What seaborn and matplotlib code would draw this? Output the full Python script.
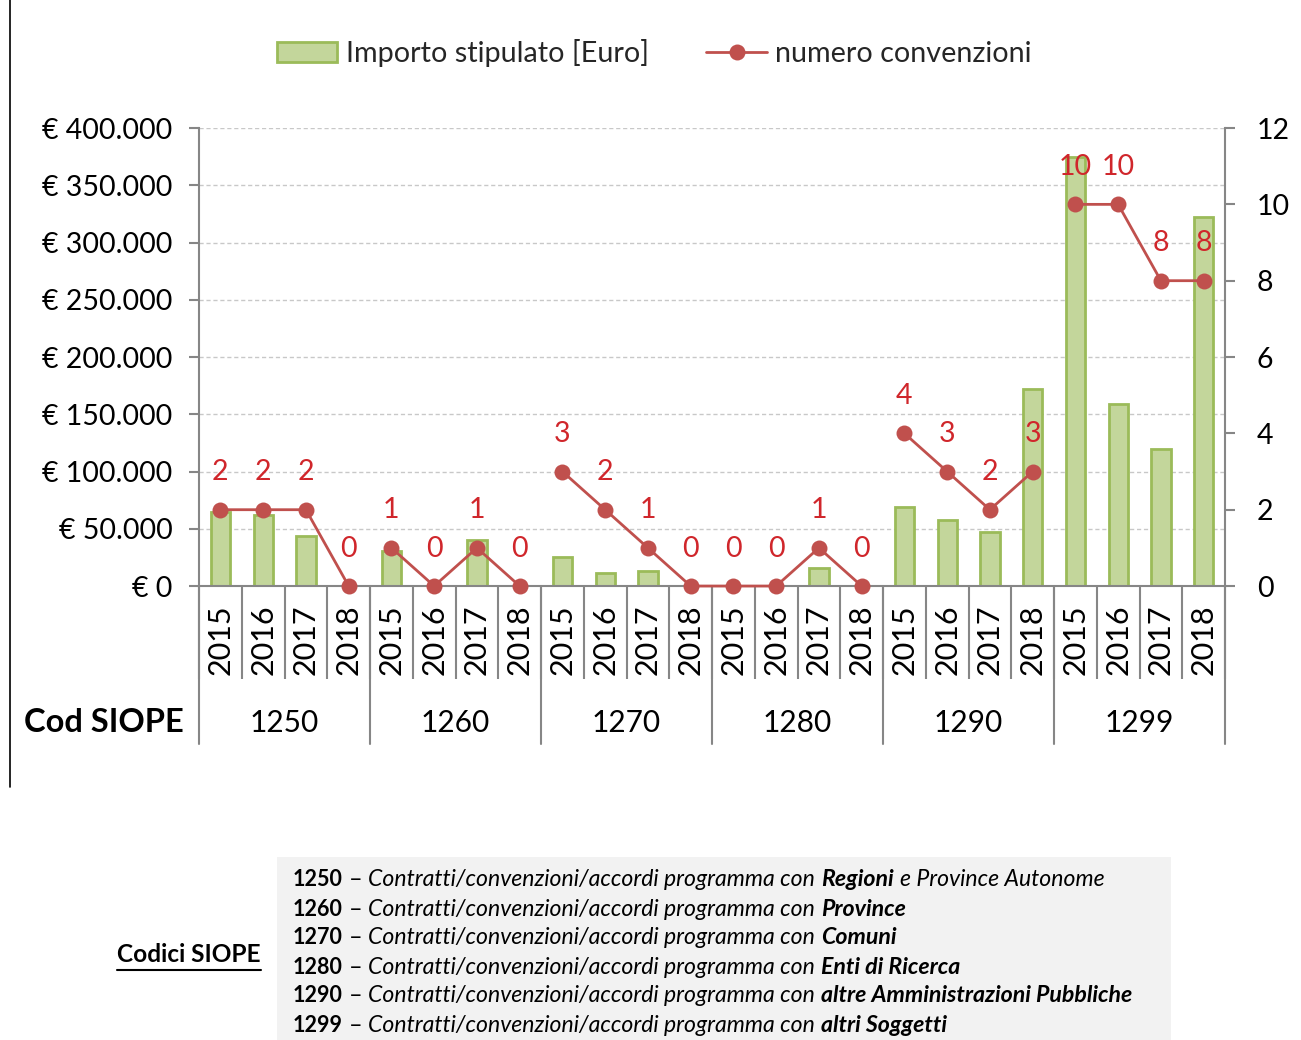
import numpy as np
import pandas as pd
import matplotlib
matplotlib.use("Agg")
import matplotlib.pyplot as plt
import seaborn as sns
from matplotlib.ticker import FuncFormatter, MultipleLocator
import matplotlib.transforms as mtransforms
from matplotlib.patches import Rectangle, Patch
from matplotlib.lines import Line2D

# ---------------- data ----------------
codes = ["1250", "1260", "1270", "1280", "1290", "1299"]
years = ["2015", "2016", "2017", "2018"]
importo = [65000, 62000, 44000, 0,
           31000, 0, 40000, 0,
           25500, 11500, 13000, 0,
           0, 0, 15500, 0,
           69000, 57500, 47500, 172000,
           375000, 159000, 120000, 322000]
numero = [2, 2, 2, 0,
          1, 0, 1, 0,
          3, 2, 1, 0,
          0, 0, 1, 0,
          4, 3, 2, 3,
          10, 10, 8, 8]
# line pieces as drawn in the source chart (1270 and 1280 are joined)
line_piece = [0, 0, 0, 0,
              1, 1, 1, 1,
              2, 2, 2, 2,
              2, 2, 2, 2,
              3, 3, 3, 3,
              4, 4, 4, 4]
series_names = ["Importo stipulato [Euro]", "numero convenzioni"]
axis_title = "Cod SIOPE"
box_title = "Codici SIOPE"
descr_prefix = "Contratti/convenzioni/accordi programma con"
descr_bold = ["Regioni", "Province", "Comuni", "Enti di Ricerca",
              "altre Amministrazioni Pubbliche", "altri Soggetti"]
descr_tail = ["e Province Autonome", "", "", "", "", ""]

# ---------------- style ----------------
sns.set_theme(style="white")
plt.rcParams["font.family"] = ["Lato", "DejaVu Sans"]

FILL = "#C3D69B"
EDGE = "#9BBB59"
LINE = "#C0504D"
LABEL = "#D0262B"
GRAY = "#868686"

df = pd.DataFrame({
    "code": np.repeat(codes, len(years)),
    "year": years * len(codes),
    "importo": importo,
    "numero": numero,
    "piece": line_piece,
})
df["cat"] = df["code"] + "-" + df["year"]
df["pos"] = np.arange(len(df))

fig = plt.figure(figsize=(13.01, 10.4), dpi=100)
ax = fig.add_axes([0.153, 0.4365, 0.7886, 0.4404])

sns.barplot(data=df, x="cat", y="importo", ax=ax, color=FILL, saturation=1,
            edgecolor=EDGE, linewidth=2, width=0.45, zorder=2)

ax2 = ax.twinx()
sns.lineplot(data=df, x="pos", y="numero", units="piece", estimator=None,
             ax=ax2, color=LINE, marker="o", markersize=11.5,
             markeredgewidth=0, linewidth=2, clip_on=False, zorder=5)
for p, v in zip(df["pos"], df["numero"]):
    ax2.annotate(str(v), (p, v), xytext=(0, 27), textcoords="offset points",
                 ha="center", va="center", color=LABEL, fontsize=20.5,
                 annotation_clip=False)

n = len(df)
ax.set_xlim(-0.5, n - 0.5)
ax.set_ylim(0, 400000)
ax2.set_ylim(0, 12)
ax.yaxis.set_major_locator(MultipleLocator(50000))
ax2.yaxis.set_major_locator(MultipleLocator(2))


def euro(v, _):
    s = f"{int(round(v)):,}".replace(",", ".")
    return f"€ {s}"


ax.yaxis.set_major_formatter(FuncFormatter(euro))
ax.set_xlabel("")
ax.set_ylabel("")
ax2.set_xlabel("")
ax2.set_ylabel("")

ax.yaxis.grid(True, linestyle=(0, (3, 2)), color="#C8C8C8", linewidth=1)
ax.set_axisbelow(True)

for a in (ax, ax2):
    a.spines["top"].set_visible(False)
    for s in a.spines.values():
        s.set_color(GRAY)
        s.set_linewidth(1.5)
ax.spines["right"].set_visible(False)
ax2.spines["left"].set_visible(False)
ax2.spines["bottom"].set_visible(False)

ax.tick_params(axis="y", which="major", left=True, length=7, width=1.5,
               color=GRAY, labelsize=20.5, labelcolor="black", pad=12)
ax2.tick_params(axis="y", which="major", right=True, length=7, width=1.5,
                color=GRAY, labelsize=20.5, labelcolor="black", pad=16)

ax.set_xticks(df["pos"])
ax.set_xticklabels(df["year"], rotation=90)
ax.tick_params(axis="x", which="major", length=0, pad=13, labelsize=22,
               labelcolor="black")
ax.set_xticks(np.arange(n + 1) - 0.5, minor=True)
ax.tick_params(axis="x", which="minor", bottom=True, length=67, width=1.5,
               color=GRAY, direction="out")

trans = mtransforms.blended_transform_factory(ax.transData, ax.transAxes)
for b in np.arange(0, n + 1, len(years)) - 0.5:
    ax.add_line(Line2D([b, b], [0, -0.345], transform=trans, color=GRAY,
                       lw=1.5, clip_on=False))
for i, c in enumerate(codes):
    center = i * len(years) + (len(years) - 1) / 2
    ax.text(center, -0.299, c, transform=trans, ha="center", va="center",
            fontsize=21.5, color="black")
fig.text(0.141, 1 - 723 / 1040, axis_title, ha="right", va="center",
         fontsize=23.5, fontweight="bold", color="black")

# left border of the chart frame
fig.add_artist(Line2D([0.0077, 0.0077], [1 - 787 / 1040, 1.0],
                      transform=fig.transFigure, color="black", lw=1.2))

# legend
handles = [Patch(facecolor=FILL, edgecolor=EDGE, linewidth=2),
           Line2D([], [], color=LINE, marker="o", markersize=11.5,
                  markeredgewidth=0, linewidth=2)]
fig.legend(handles, series_names, loc="center", bbox_to_anchor=(0.503, 0.949),
           ncol=2, frameon=False, fontsize=20.7, handlelength=2.1,
           columnspacing=2.0, handletextpad=0.3)

# bottom box with SIOPE code descriptions
fig.add_artist(Rectangle((277 / 1301, 0), (1171 - 277) / 1301, 183 / 1040,
                         transform=fig.transFigure, facecolor="#F2F2F2",
                         edgecolor="none", zorder=0))

fig.canvas.draw()
renderer = fig.canvas.get_renderer()
FW = fig.bbox.width
SIZES = {"b": 15.5, "": 16.8, "i": 16.6, "bi": 16.7}


def width_of(txt, size, **kw):
    t = fig.text(0, 0, txt, fontsize=size, **kw)
    w = t.get_window_extent(renderer).width
    t.remove()
    return w


space_w = width_of("x x", 16.6) - width_of("xx", 16.6)


def draw_runs(x_px, y_px, runs):
    x = x_px
    for txt, st in runs:
        if not txt:
            continue
        kw = dict(fontweight="bold" if "b" in st else "normal",
                  fontstyle="italic" if "i" in st else "normal")
        t = fig.text(x / FW, 1 - y_px / 1040, txt, fontsize=SIZES[st],
                     ha="left", va="center", color="black", **kw)
        x += t.get_window_extent(renderer).width + space_w


for i, c in enumerate(codes):
    runs = [(c, "b"), ("–", ""), (descr_prefix, "i"), (descr_bold[i], "bi"),
            (descr_tail[i], "i")]
    draw_runs(293, 880 + 29 * i, runs)

tt = fig.text(117 / 1301, 1 - 955 / 1040, box_title, ha="left", va="center",
              fontsize=17.6, fontweight="bold", color="black")
bb = tt.get_window_extent(renderer)
fig.add_artist(Line2D([bb.x0 / FW, bb.x1 / FW],
                      [(bb.y0 - 3) / 1040, (bb.y0 - 3) / 1040],
                      transform=fig.transFigure, color="black", lw=1.5))

fig.savefig("out.png", dpi=100)
